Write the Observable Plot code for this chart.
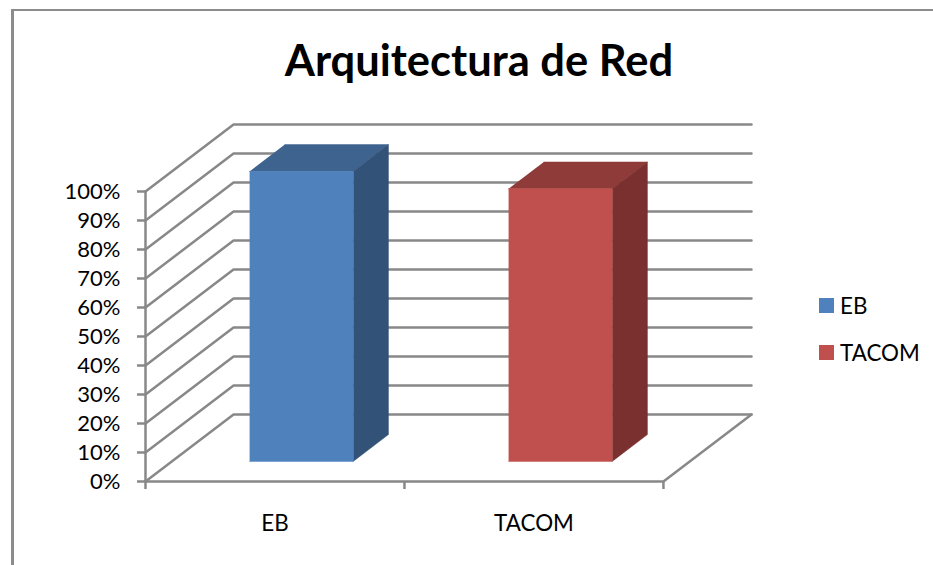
<!DOCTYPE html>
<html lang="es">
<head>
<meta charset="utf-8">
<title>Arquitectura de Red</title>
<script src="https://cdn.jsdelivr.net/npm/d3@7"></script>
<script src="https://cdn.jsdelivr.net/npm/@observablehq/plot@0.6"></script>
<style>
  html, body { margin: 0; padding: 0; background: #fff; }
  #chart { position: relative; width: 933px; height: 565px; overflow: hidden; font-family: Lato, sans-serif; color: #000; }
  #chart svg { position: absolute; left: 0; top: 0; }
  #border { position: absolute; left: 11px; top: 9px; right: 0; bottom: 0; border-left: 3px solid #8c8c8c; border-top: 2px solid #8c8c8c; }
  #heading { position: absolute; left: 0; top: 32px; width: 958px; margin: 0; text-align: center; font-size: 43.5px; line-height: 54px; font-weight: 700; }
  #legend { position: absolute; left: 819px; top: 282px; }
  .entry { display: flex; align-items: center; height: 47px; font-size: 22.4px; }
  .swatch { width: 15px; height: 15px; margin-right: 6px; }
</style>
</head>
<body>
<div id="chart">
  <div id="border"></div>
  <h1 id="heading">Arquitectura de Red</h1>
  <div id="legend"></div>
</div>
<script>
// Survey results per network architecture
const categories = ["EB", "TACOM"];
const values = [100, 94];
const frontColors = ["#4f81bd", "#c0504d"];
const topColors = ["#3e638f", "#8f3b39"];
const sideColors = ["#325278", "#7a302e"];
const percentTicks = [0, 10, 20, 30, 40, 50, 60, 70, 80, 90, 100];

// Oblique projection: a point at depth d (0 front, 1 back) shifts right and up
const depthX = 0.34;
const depthY = 23.1;
const barWidth = 0.4;
const barDepthFront = 0.3;
const barDepthBack = 0.7;
const gridColor = "#888888";

const at = (cat, val, depth) => ({x: cat + depth * depthX, y: val + depth * depthY});

// Wall and floor lines
const wallLines = percentTicks.flatMap((v) => [
  {...at(0, v, 0), id: `side${v}`},
  {...at(0, v, 1), id: `side${v}`},
  {...at(2, v, 1), id: `side${v}`}
]);
const floorEdge = [at(0, 0, 0), at(2, 0, 0), at(2, 0, 1)];
const verticalAxis = [at(0, 0, 0), at(0, 100, 0)];

// Three visible faces of each bar
const faces = categories.flatMap((name, i) => {
  const x0 = i + 0.5 - barWidth / 2;
  const x1 = i + 0.5 + barWidth / 2;
  const v = values[i];
  // The bar stands on the floor, so its base and top both carry the depth shift
  const quad = (face, color, corners) =>
    corners.map(([cx, cv, cd]) => ({...at(cx, cv, cd), id: `${name}-${face}`, color}));
  return [
    ...quad("top", topColors[i], [[x0, v, barDepthFront], [x1, v, barDepthFront], [x1, v, barDepthBack], [x0, v, barDepthBack]]),
    ...quad("side", sideColors[i], [[x1, 0, barDepthFront], [x1, 0, barDepthBack], [x1, v, barDepthBack], [x1, v, barDepthFront]]),
    ...quad("front", frontColors[i], [[x0, 0, barDepthFront], [x1, 0, barDepthFront], [x1, v, barDepthFront], [x0, v, barDepthFront]])
  ];
});

const plot = Plot.plot({
  width: 933,
  height: 565,
  marginLeft: 145,
  marginRight: 182,
  marginTop: 124,
  marginBottom: 84,
  style: {background: "transparent", fontFamily: "Lato, sans-serif", color: "#000"},
  x: {type: "linear", domain: [0, 2 + depthX]},
  y: {type: "linear", domain: [0, 100 + depthY]},
  marks: [
    Plot.line(wallLines, {x: "x", y: "y", z: "id", stroke: gridColor, strokeWidth: 2.5}),
    Plot.line(floorEdge, {x: "x", y: "y", stroke: gridColor, strokeWidth: 2.5}),
    Plot.line(verticalAxis, {x: "x", y: "y", stroke: gridColor, strokeWidth: 2.5}),
    Plot.line(faces, {x: "x", y: "y", z: "id", fill: "color", stroke: "color", strokeWidth: 0.5}),
    Plot.axisY(percentTicks, {
      anchor: "left",
      tickSize: 8,
      tickPadding: 17,
      stroke: gridColor,
      strokeWidth: 2.5,
      fontSize: 22,
      fill: "#000",
      tickFormat: (d) => `${d}%`,
      label: null
    }),
    // Tick marks between categories
    Plot.axisX([0, 1, 2], {
      anchor: "bottom",
      tickSize: 8,
      stroke: gridColor,
      strokeWidth: 2.5,
      tickFormat: () => "",
      label: null
    }),
    // Category names centred in their slots
    Plot.axisX(categories.map((_, i) => i + 0.5), {
      anchor: "bottom",
      tickSize: 0,
      tickPadding: 34,
      fontSize: 22.4,
      fill: "#000",
      tickFormat: (d) => categories[Math.floor(d)],
      label: null
    })
  ]
});
document.getElementById("chart").appendChild(plot);

// Legend entries
const legend = d3.select("#legend");
categories.forEach((name, i) => {
  const entry = legend.append("div").attr("class", "entry");
  entry.append("span").attr("class", "swatch").style("background", frontColors[i]);
  entry.append("span").text(name);
});
</script>
</body>
</html>
